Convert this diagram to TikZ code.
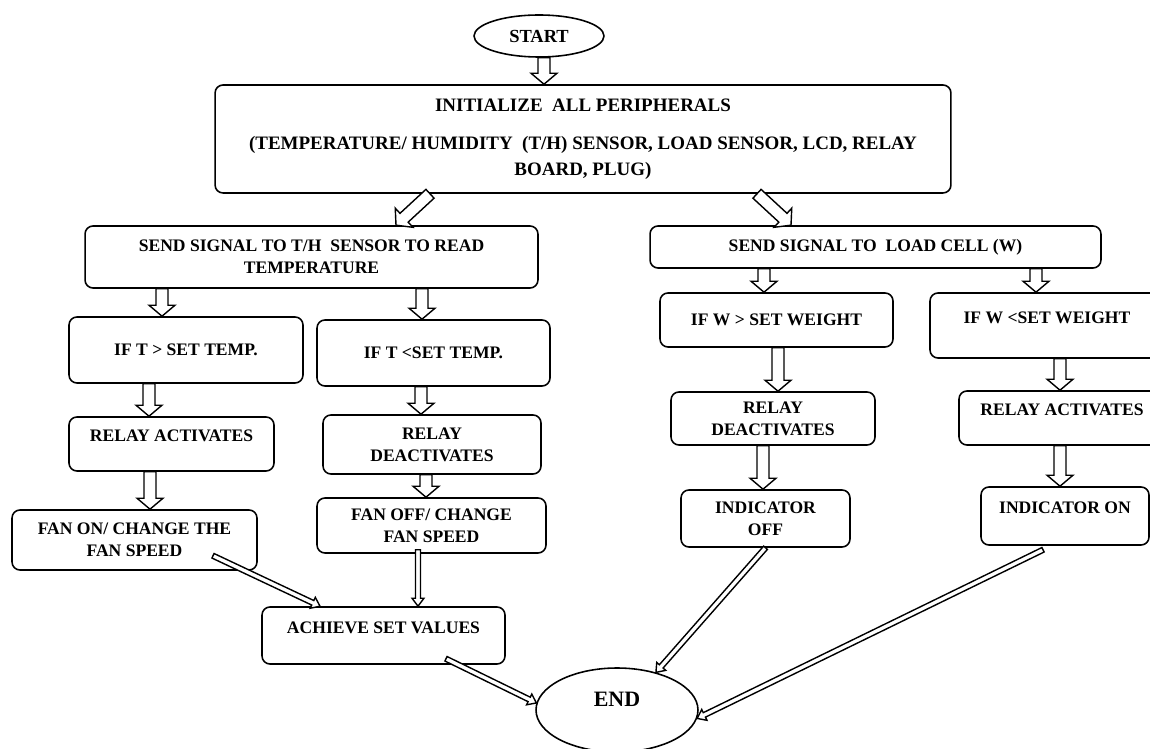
\documentclass[tikz,border=0pt]{standalone}
\usepackage{fontspec}
\setmainfont{Liberation Serif}
\usetikzlibrary{calc, shapes.geometric}
\tikzset{
    flowbox/.style={draw, rounded corners=4.5pt, line width=0.9pt, align=center, inner sep=2pt, font=\bfseries\fontsize{10}{12.5}\selectfont},
    topline/.style={text depth=9pt},
    terminal/.style={draw, ellipse, line width=0.9pt, inner sep=1pt, font=\bfseries\fontsize{10.5}{12.5}\selectfont},
    hollow/.style={draw, fill=white, line width=0.8pt, line join=miter},
}
% hollow block arrow: tail, tip, half shaft, half head, head length
\newcommand{\hollowarrow}[5]{%
    \coordinate (ha-a) at (#1);
    \coordinate (ha-b) at (#2);
    \coordinate (ha-c) at ($(ha-b)!#5!(ha-a)$);
    \draw[hollow] ($(ha-a)!#3!90:(ha-b)$) -- ($(ha-c)!#3!90:(ha-b)$) -- ($(ha-c)!#4!90:(ha-b)$) -- (ha-b)
        -- ($(ha-c)!#4!-90:(ha-b)$) -- ($(ha-c)!#3!-90:(ha-b)$) -- ($(ha-a)!#3!-90:(ha-b)$) -- cycle;}
\newcommand{\fatarrow}[2]{\hollowarrow{#1}{#2}{0.12cm}{0.26cm}{0.22cm}}
\newcommand{\slimarrow}[2]{\hollowarrow{#1}{#2}{0.05cm}{0.12cm}{0.16cm}}

\begin{document}
\begin{tikzpicture}[x=0.02cm, y=-0.02cm]
    \useasboundingbox[fill=white] (0,0) rectangle (1150,749);
    \clip (0,0) rectangle (1150,749);

    % Start and set-up
    \node[terminal, minimum width=2.6cm, minimum height=0.84cm] (start) at (539,36) {START};
    \node[flowbox, minimum width=14.72cm, minimum height=2.16cm, font=\bfseries\fontsize{10.8}{14.8}\selectfont] (init) at (583,139)
        {INITIALIZE\ \ ALL PERIPHERALS\\[6.8pt](TEMPERATURE/ HUMIDITY\ \ (T/H) SENSOR, LOAD SENSOR, LCD, RELAY\\BOARD, PLUG)};

    % Temperature branch
    \node[flowbox, minimum width=9.06cm, minimum height=1.24cm] (sendt) at (311.5,257) {SEND SIGNAL TO T/H\ \ SENSOR TO READ\\TEMPERATURE};
    \node[flowbox, minimum width=4.68cm, minimum height=1.32cm] (ift) at (186,350) {IF T > SET TEMP.};
    \node[flowbox, minimum width=4.66cm, minimum height=1.32cm] (iflt) at (433.5,353) {IF T <SET TEMP.};
    \node[flowbox, topline, minimum width=4.10cm, minimum height=1.08cm] (relaya) at (171.5,444) {RELAY ACTIVATES};
    \node[flowbox, minimum width=4.36cm, minimum height=1.18cm] (relayd) at (432,444.5) {RELAY\\DEACTIVATES};
    \node[flowbox, minimum width=4.90cm, minimum height=1.20cm] (fanon) at (134.5,540) {FAN ON/ CHANGE THE\\FAN SPEED};
    \node[flowbox, minimum width=4.58cm, minimum height=1.10cm] (fanoff) at (431.5,525.5) {FAN OFF/ CHANGE\\FAN SPEED};
    \node[flowbox, topline, minimum width=4.86cm, minimum height=1.14cm] (achieve) at (383.5,635.5) {ACHIEVE SET VALUES};

    % Load branch
    \node[flowbox, minimum width=9.02cm, minimum height=0.84cm] (sendw) at (875.5,247) {SEND SIGNAL TO\ \ LOAD CELL (W)};
    \node[flowbox, minimum width=4.66cm, minimum height=1.08cm] (ifw) at (776.5,320) {IF W > SET WEIGHT};
    \node[flowbox, topline, minimum width=4.68cm, minimum height=1.30cm] (ifwl) at (1047,325.5) {IF W <SET WEIGHT};
    \node[flowbox, minimum width=4.08cm, minimum height=1.06cm] (relayd2) at (773,418.5) {RELAY\\DEACTIVATES};
    \node[flowbox, topline, minimum width=4.12cm, minimum height=1.08cm] (relaya2) at (1062,418) {RELAY ACTIVATES};
    \node[flowbox, minimum width=3.38cm, minimum height=1.14cm] (indoff) at (765.5,518.5) {INDICATOR\\OFF};
    \node[flowbox, topline, minimum width=3.36cm, minimum height=1.16cm] (indon) at (1065,516) {INDICATOR ON};

    % End
    \node[terminal, minimum width=3.24cm, minimum height=1.68cm, text height=8.3pt, text depth=12pt, font=\bfseries\fontsize{12.5}{15}\selectfont] (finish) at (617,710) {END};

    % Block arrows
    \fatarrow{start.south -| 544,0}{init.north -| 544,0}
    \fatarrow{init.south -| 430,0}{sendt.north -| 396,0}
    \fatarrow{init.south -| 757,0}{sendw.north -| 791,0}
    \foreach \a/\b/\x in {sendt/ift/162, sendt/iflt/422, sendw/ifw/764, sendw/ifwl/1036,
                          ift/relaya/149, iflt/relayd/421, ifw/relayd2/778, ifwl/relaya2/1060,
                          relaya/fanon/150, relayd/fanoff/426, relayd2/indoff/763, relaya2/indon/1060}
        \fatarrow{\a.south -| \x,0}{\b.north -| \x,0};

    % Thin arrows
    \slimarrow{$(fanon.south)+(78.5,-15)$}{achieve.north -| 320,0}
    \slimarrow{$(fanoff.south)+(-13.5,-4)$}{achieve.north -| 418,0}
    \slimarrow{$(achieve.south)+(62.5,-6)$}{finish.175}
    \slimarrow{indoff.south}{finish.44}
    \slimarrow{$(indon.south)+(-22,4)$}{finish.354}
\end{tikzpicture}
\end{document}
